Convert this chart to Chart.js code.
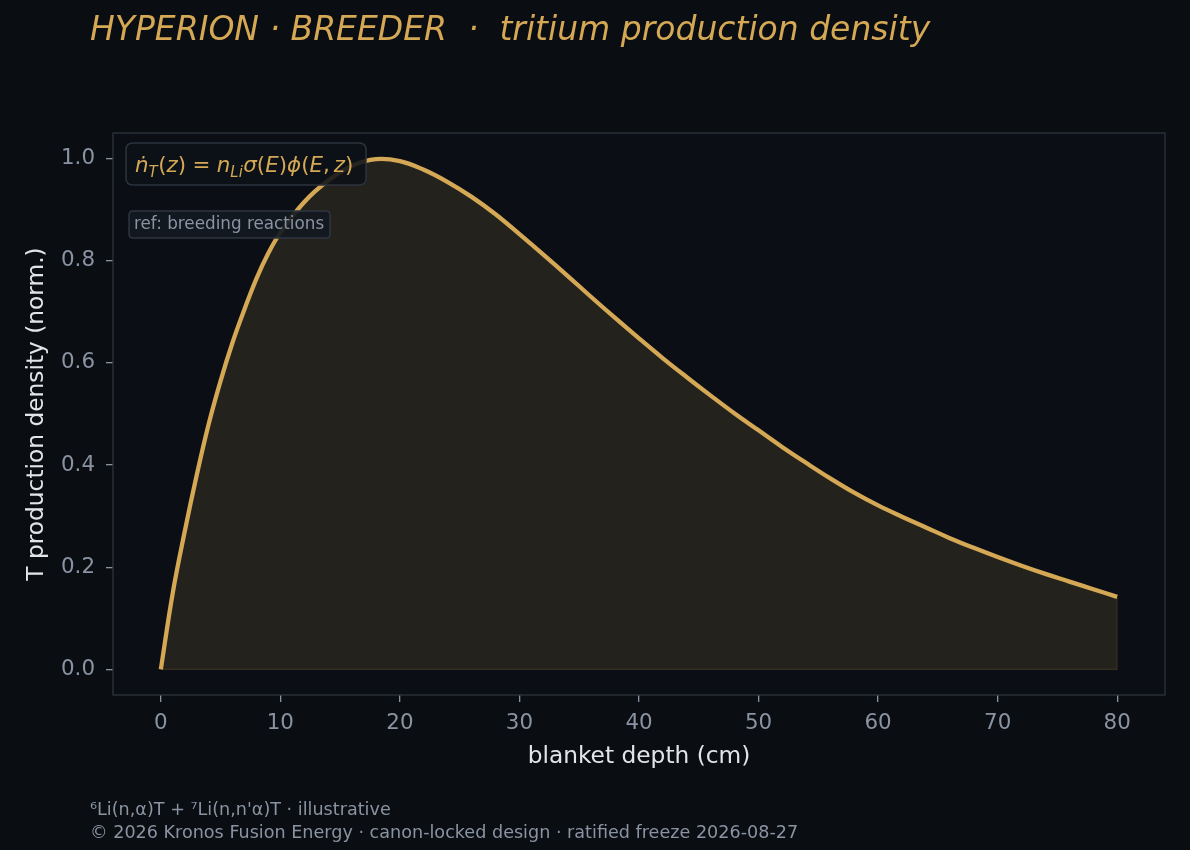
<!DOCTYPE html>
<html>
<head>
<meta charset="utf-8">
<script src="https://cdn.jsdelivr.net/npm/chart.js@4.4.1/dist/chart.umd.min.js"></script>
<style>
  html, body { margin: 0; padding: 0; background: #0a0d12; }
  #wrap { width: 1190px; height: 850px; }
</style>
</head>
<body>
<div id="wrap"><canvas id="myChart" width="1190" height="850"></canvas></div>
<script>
// blanket depth (cm) and normalised T production density
const depth = [0, 1, 2, 3, 4, 5, 6, 7, 8, 9, 10, 12, 14, 16, 18, 20, 22, 24, 26, 28,
  30, 32, 34, 36, 38, 40, 42, 44, 46, 48, 50, 52, 54, 56, 58, 60, 62, 64, 66, 68,
  70, 72, 74, 76, 78, 80]
const density = [0, 0.15, 0.27, 0.38, 0.48, 0.565, 0.64, 0.705, 0.765, 0.815, 0.855,
  0.915, 0.957, 0.986, 0.999, 0.995, 0.978, 0.954, 0.925, 0.891,
  0.852, 0.812, 0.771, 0.729, 0.688, 0.648, 0.609, 0.572, 0.536, 0.501,
  0.468, 0.435, 0.404, 0.374, 0.346, 0.321, 0.299, 0.278, 0.257, 0.238,
  0.22, 0.203, 0.187, 0.172, 0.157, 0.142]
const xTicks = [0, 10, 20, 30, 40, 50, 60, 70, 80]
const yTicks = [0, 0.2, 0.4, 0.6, 0.8, 1.0]

const titleText = 'HYPERION · BREEDER  ·  tritium production density'
const footer1 = '\u2076Li(n,\u03b1)T + \u2077Li(n,n\'\u03b1)T · illustrative'
const footer2 = '© 2026 Kronos Fusion Energy · canon-locked design · ratified freeze 2026-08-27'
const refText = 'ref: breeding reactions'

const gold = 'rgb(212,168,84)'
const tickGray = 'rgb(138,147,162)'
const labelColor = 'rgb(226,228,232)'
const FONT = '"DejaVu Sans", sans-serif'

function roundRect(c, x, y, w, h, r) {
  c.beginPath()
  c.moveTo(x + r, y)
  c.lineTo(x + w - r, y)
  c.quadraticCurveTo(x + w, y, x + w, y + r)
  c.lineTo(x + w, y + h - r)
  c.quadraticCurveTo(x + w, y + h, x + w - r, y + h)
  c.lineTo(x + r, y + h)
  c.quadraticCurveTo(x, y + h, x, y + h - r)
  c.lineTo(x, y + r)
  c.quadraticCurveTo(x, y, x + r, y)
  c.closePath()
}

// draw the mathtext-like formula piece by piece
// [text, style, baseline shift (em), scale, extra space after (em)]
function drawFormula(c, x, y, size) {
  const parts = [
    ['\u1e45', 'italic', 0, 1, 0], ['T', 'italic', 0.22, 0.7, 0.02],
    ['(', 'normal', 0, 1, 0], ['z', 'italic', 0, 1, 0], [')', 'normal', 0, 1, 0.3],
    ['=', 'normal', 0, 1, 0.3],
    ['n', 'italic', 0, 1, 0], ['Li', 'italic', 0.22, 0.7, 0.02],
    ['\u03c3', 'italic', 0, 1, 0], ['(', 'normal', 0, 1, 0], ['E', 'italic', 0, 1, 0], [')', 'normal', 0, 1, 0],
    ['\u03d5', 'italic', 0, 1, 0], ['(', 'normal', 0, 1, 0], ['E', 'italic', 0, 1, 0], [',', 'normal', 0, 1, 0.18],
    ['z', 'italic', 0, 1, 0], [')', 'normal', 0, 1, 0]
  ]
  c.fillStyle = gold
  c.textBaseline = 'alphabetic'
  c.textAlign = 'left'
  let cx = x
  parts.forEach(p => {
    c.font = p[1] + ' ' + (size * p[3]) + 'px ' + FONT
    c.fillText(p[0], cx, y + p[2] * size)
    cx += c.measureText(p[0]).width + p[4] * size
  })
}

const decor = {
  id: 'decor',
  beforeDraw(chart) {
    const c = chart.ctx, a = chart.chartArea
    c.save()
    c.fillStyle = '#0a0d12'
    c.fillRect(0, 0, chart.width, chart.height)
    c.fillStyle = '#0b0e15'
    c.fillRect(a.left, a.top, a.right - a.left, a.bottom - a.top)
    c.restore()
  },
  afterDatasetsDraw(chart) {
    const c = chart.ctx, a = chart.chartArea
    const xs = chart.scales.x, ys = chart.scales.y
    c.save()
    // faint edge of the filled region
    c.strokeStyle = 'rgba(212,168,84,0.16)'
    c.lineWidth = 1.2
    c.beginPath()
    c.moveTo(xs.getPixelForValue(depth[0]), ys.getPixelForValue(0))
    c.lineTo(xs.getPixelForValue(depth[depth.length - 1]), ys.getPixelForValue(0))
    c.lineTo(xs.getPixelForValue(depth[depth.length - 1]), ys.getPixelForValue(density[density.length - 1]))
    c.stroke()

    // formula box
    roundRect(c, a.left + 13, a.top + 10, 240, 42, 7)
    c.fillStyle = 'rgba(13,17,24,0.88)'
    c.fill()
    c.strokeStyle = 'rgb(44,51,62)'
    c.lineWidth = 1.5
    c.stroke()
    drawFormula(c, a.left + 22, a.top + 39, 21.4)

    // ref box
    roundRect(c, a.left + 16, a.top + 78, 201, 27, 4)
    c.fillStyle = 'rgba(20,25,33,0.92)'
    c.fill()
    c.strokeStyle = 'rgb(46,54,66)'
    c.lineWidth = 1.5
    c.stroke()
    c.fillStyle = tickGray
    c.font = '16.8px ' + FONT
    c.textBaseline = 'middle'
    c.fillText(refText, a.left + 21, a.top + 92)

    // plot frame
    c.strokeStyle = 'rgb(46,51,60)'
    c.lineWidth = 1.3
    c.strokeRect(a.left, a.top, a.right - a.left, a.bottom - a.top)
    c.restore()
  },
  afterDraw(chart) {
    const c = chart.ctx
    c.save()
    c.fillStyle = gold
    c.font = 'italic 33px ' + FONT
    c.textBaseline = 'alphabetic'
    c.fillText(titleText, 90, 40)
    c.fillStyle = tickGray
    c.font = '17.6px ' + FONT
    c.textBaseline = 'middle'
    c.fillText(footer1, 90, 810)
    c.fillText(footer2, 90, 833)
    c.restore()
  }
}

const ctx = document.getElementById('myChart')

new Chart(ctx, {
  type: 'line',
  data: {
    datasets: [{
      data: depth.map((d, i) => ({ x: d, y: density[i] })),
      borderColor: gold,
      borderWidth: 4.3,
      backgroundColor: 'rgba(212,168,84,0.13)',
      fill: 'origin',
      pointRadius: 0,
      tension: 0.4
    }]
  },
  options: {
    responsive: false,
    animation: false,
    devicePixelRatio: 1,
    layout: { padding: { left: 23, top: 133, right: 25, bottom: 79 } },
    plugins: {
      legend: { display: false },
      title: { display: false },
      tooltip: { enabled: false }
    },
    scales: {
      x: {
        type: 'linear',
        min: -4,
        max: 84,
        afterBuildTicks: s => { s.ticks = xTicks.map(v => ({ value: v })) },
        afterFit: s => { s.height = 76 },
        ticks: {
          color: tickGray,
          font: { family: FONT, size: 21.4 },
          padding: 9,
          maxRotation: 0,
          callback: v => String(v)
        },
        grid: { display: true, drawOnChartArea: false, drawTicks: true, tickLength: 7, color: tickGray, lineWidth: 1.3 },
        border: { display: false },
        title: {
          display: true,
          text: 'blanket depth (cm)',
          color: labelColor,
          font: { family: FONT, size: 23.3 },
          padding: 0
        }
      },
      y: {
        type: 'linear',
        min: -0.05,
        max: 1.05,
        afterBuildTicks: s => { s.ticks = yTicks.map(v => ({ value: v })) },
        afterFit: s => { s.width = 90 },
        ticks: {
          color: tickGray,
          font: { family: FONT, size: 21.4 },
          padding: 11,
          callback: v => Number(v).toFixed(1)
        },
        grid: { display: true, drawOnChartArea: false, drawTicks: true, tickLength: 7, color: tickGray, lineWidth: 1.3 },
        border: { display: false },
        title: {
          display: true,
          text: 'T production density (norm.)',
          color: labelColor,
          font: { family: FONT, size: 23.3 },
          padding: 0
        }
      }
    }
  },
  plugins: [decor]
})
</script>
</body>
</html>
